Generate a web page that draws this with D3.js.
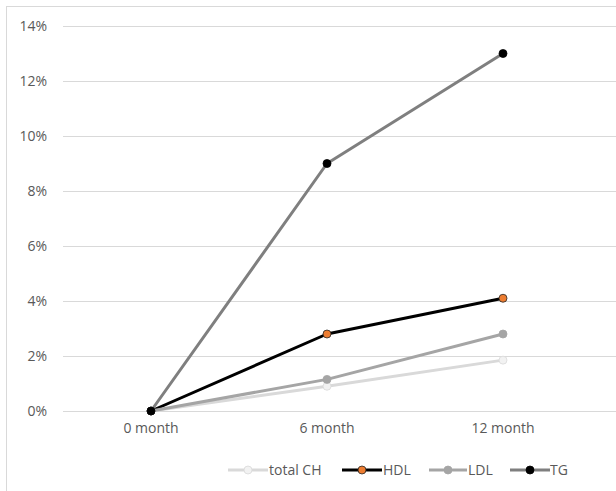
<!DOCTYPE html>
<html>
<head>
<meta charset="utf-8">
<script src="https://cdn.jsdelivr.net/npm/d3@7"></script>
<style>
  html, body { margin: 0; padding: 0; background: #fff; }
  svg { display: block; font-family: "Open Sans", "Noto Sans", sans-serif; }
</style>
</head>
<body>
<svg id="chart" width="616" height="491"></svg>
<script>
// Follow-up time points
const categories = ["0 month", "6 month", "12 month"];
// Relative change (%) per lipid measure
const totalCH = [0, 0.9, 1.85];
const hdl = [0, 2.8, 4.1];
const ldl = [0, 1.15, 2.8];
const tg = [0, 9.0, 13.0];
const yTicks = [0, 2, 4, 6, 8, 10, 12, 14];

const series = [
  { name: "total CH", values: totalCH, line: "#d9d9d9", fill: "#f2f2f2", stroke: "#d9d9d9" },
  { name: "HDL", values: hdl, line: "#000000", fill: "#ed7d31", stroke: "#262626" },
  { name: "LDL", values: ldl, line: "#a5a5a5", fill: "#a5a5a5", stroke: "#a5a5a5" },
  { name: "TG", values: tg, line: "#7f7f7f", fill: "#000000", stroke: "#000000" }
];

const svg = d3.select("#chart");
const W = 616, H = 491;
const FONT = 14;
const TEXT = "#595959";

// chart frame
svg.append("rect")
  .attr("x", 6.5).attr("y", 6.5)
  .attr("width", 640).attr("height", 520)
  .attr("fill", "#fff").attr("stroke", "#d9d9d9").attr("stroke-width", 1);

const plotLeft = 63, plotRight = 591;
const x = d3.scaleBand().domain(categories).range([plotLeft, plotRight]);
const y = d3.scaleLinear().domain([0, 14]).range([411, 26]);
const cx = c => x(c) + x.bandwidth() / 2;

// horizontal gridlines
svg.append("g").selectAll("line").data(yTicks).join("line")
  .attr("x1", plotLeft).attr("x2", W)
  .attr("y1", d => Math.round(y(d)) + 0.5).attr("y2", d => Math.round(y(d)) + 0.5)
  .attr("stroke", "#d9d9d9").attr("stroke-width", 1);

// y axis labels
const yAxis = d3.axisLeft(y).tickValues(yTicks).tickFormat(d => d + "%").tickSize(0).tickPadding(0);
const gy = svg.append("g").attr("transform", "translate(47,0)").call(yAxis);
gy.select(".domain").remove();
gy.selectAll("text").attr("fill", TEXT).attr("font-size", FONT)
  .attr("font-family", "\"Open Sans\", \"Noto Sans\", sans-serif");

// x axis labels
const xAxis = d3.axisBottom(x).tickSize(0).tickPadding(0);
const gx = svg.append("g").attr("transform", "translate(0,423)").call(xAxis);
gx.select(".domain").remove();
gx.selectAll("text").attr("fill", TEXT).attr("font-size", FONT)
  .attr("font-family", "\"Open Sans\", \"Noto Sans\", sans-serif");

// series lines and markers
const line = d3.line().x((d, i) => cx(categories[i])).y(d => y(d));
series.forEach(s => {
  const g = svg.append("g");
  g.append("path").datum(s.values)
    .attr("d", line).attr("fill", "none")
    .attr("stroke", s.line).attr("stroke-width", 3)
    .attr("stroke-linejoin", "round");
  g.selectAll("circle").data(s.values).join("circle")
    .attr("cx", (d, i) => cx(categories[i])).attr("cy", d => y(d))
    .attr("r", 4).attr("fill", s.fill)
    .attr("stroke", s.stroke).attr("stroke-width", 0.8);
});

// legend
const legendItems = [
  { x0: 228, x1: 268, tx: 269 },
  { x0: 342, x1: 382, tx: 383 },
  { x0: 429, x1: 467, tx: 468 },
  { x0: 510, x1: 550, tx: 550 }
];
const ly = 470;
const lg = svg.append("g");
series.forEach((s, i) => {
  const it = legendItems[i];
  lg.append("line").attr("x1", it.x0).attr("x2", it.x1)
    .attr("y1", ly).attr("y2", ly)
    .attr("stroke", s.line).attr("stroke-width", 3);
  lg.append("circle").attr("cx", (it.x0 + it.x1) / 2).attr("cy", ly)
    .attr("r", 4).attr("fill", s.fill).attr("stroke", s.stroke).attr("stroke-width", 0.8);
  lg.append("text").attr("x", it.tx).attr("y", ly).attr("dy", "0.35em")
    .attr("fill", TEXT).attr("font-size", FONT).text(s.name);
});
</script>
</body>
</html>
